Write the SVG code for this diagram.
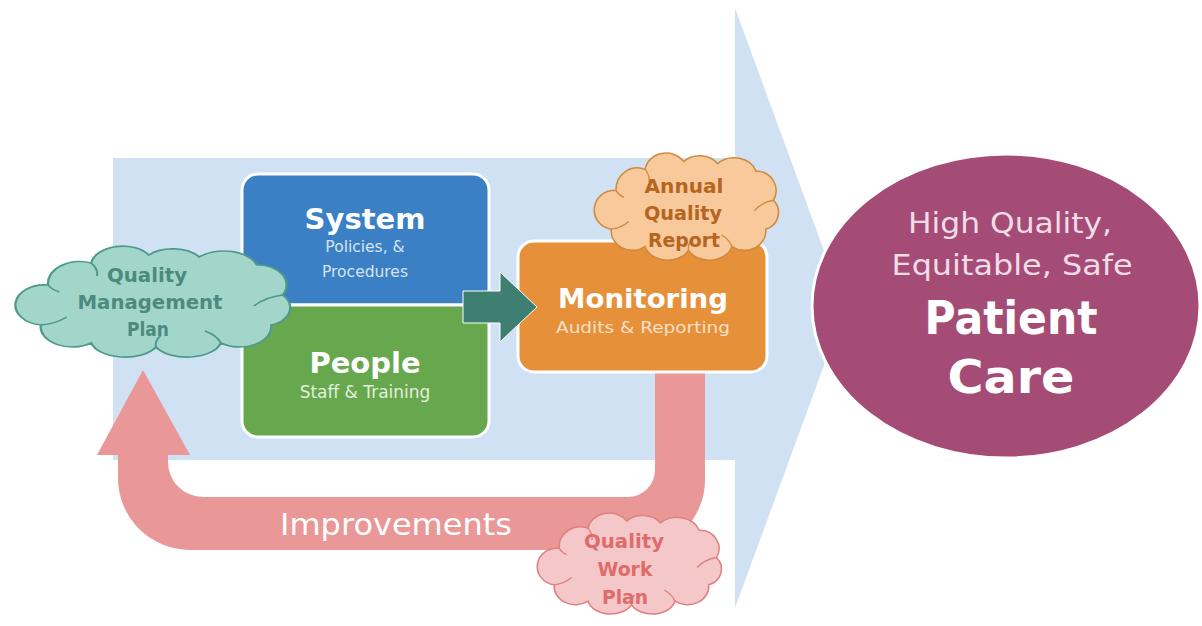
<svg xmlns="http://www.w3.org/2000/svg" width="1202" height="626" viewBox="0 0 1202 626">
  <style>
    text { font-family: "DejaVu Sans", "Liberation Sans", sans-serif; text-anchor: middle; }
    .title { font-weight: bold; fill: #ffffff; }
    .cloudtxt { font-weight: bold; font-size: 20px; }
    .box { stroke: #ffffff; stroke-width: 3; }
    .cloud { stroke-width: 1.6; vector-effect: non-scaling-stroke; }
    .curl { fill: none; stroke-width: 1.4; vector-effect: non-scaling-stroke; }
  </style>
  <defs>
    <!-- generic cloud outline in a 200 x 110 box -->
    <path id="cloudShape" d="M 25,40 A 22,22 0 0 1 55,18 A 22,20 0 0 1 95,10 A 22,18 0 0 1 130,12 A 24,20 0 0 1 170,20 A 20,20 0 0 1 188,50 A 18,18 0 0 1 180,80 A 22,20 0 0 1 145,98 A 24,18 0 0 1 100,102 A 24,18 0 0 1 55,98 A 22,20 0 0 1 20,80 A 18,18 0 0 1 25,40 Z"/>
    <path id="cloudCurls" d="M 20,80 Q 30,79 38,72 M 188,50 Q 176,52 168,61 M 55,18 Q 60,24 59,31 M 145,98 Q 142,90 134,86 M 100,102 Q 99,96 103,91 M 25,40 Q 28,45 33,47"/>
  </defs>

  <!-- background flow arrow -->
  <g id="flow-arrow">
    <polygon points="113,158 735,158 735,8 845,308 735,608 735,460 113,460" fill="#CFE1F2"/>
  </g>

  <!-- connectors -->
  <g id="connectors">
    <!-- improvements feedback loop -->
    <path d="M 705,365 L 705,480 A 70,70 0 0 1 635,550 L 190,550 A 72,72 0 0 1 118,478 L 118,455 L 97,455 L 143,370 L 190,455 L 168,455 L 168,462 A 35,35 0 0 0 203,497 L 628,497 A 27,27 0 0 0 655,470 L 655,365 Z" fill="#E99797"/>
  </g>

  <g id="system">
    <rect class="box" x="242" y="174" width="247" height="131" rx="16" fill="#3B80C4"/>
    <text class="title" x="365" y="229" font-size="29">System</text>
    <text x="365" y="252" font-size="15.5" fill="#D5E3F3">Policies, &amp;</text>
    <text x="365" y="277" font-size="15.5" fill="#D5E3F3">Procedures</text>
  </g>

  <g id="people">
    <rect class="box" x="242" y="305" width="247" height="132" rx="16" fill="#67A84F"/>
    <text class="title" x="365" y="373" font-size="29">People</text>
    <text x="365" y="398" font-size="17" fill="#E2EFDB">Staff &amp; Training</text>
  </g>

  <g id="monitoring">
    <rect class="box" x="518" y="241" width="249" height="131" rx="16" fill="#E6903A"/>
    <text class="title" x="643" y="308" font-size="27" textLength="170" lengthAdjust="spacingAndGlyphs">Monitoring</text>
    <text x="643" y="333" font-size="16" fill="#F8E0C8" textLength="174" lengthAdjust="spacingAndGlyphs">Audits &amp; Reporting</text>
  </g>

  <!-- step arrow between the inputs and monitoring -->
  <g id="step-arrow">
    <polygon points="463,291 500,291 500,272 537,307 500,342 500,323 463,323" fill="#3F7F72" stroke="#ffffff" stroke-width="1"/>
  </g>

  <g id="quality-management-plan">
    <g transform="translate(12,245) scale(1.44,1)">
      <use href="#cloudShape" class="cloud" fill="#A3D6CB" stroke="#4E9A8A"/>
      <use href="#cloudCurls" class="curl" stroke="#4E9A8A"/>
    </g>
    <text class="cloudtxt" x="147" y="282" fill="#4B8A7D" textLength="80" lengthAdjust="spacingAndGlyphs">Quality</text>
    <text class="cloudtxt" x="150" y="309" fill="#4B8A7D" textLength="145" lengthAdjust="spacingAndGlyphs">Management</text>
    <text class="cloudtxt" x="148" y="336" fill="#4B8A7D" textLength="42" lengthAdjust="spacingAndGlyphs">Plan</text>
  </g>

  <g id="annual-quality-report">
    <g transform="translate(592,152) scale(0.965,0.965)">
      <use href="#cloudShape" class="cloud" fill="#F7C99B" stroke="#D08A3E"/>
      <use href="#cloudCurls" class="curl" stroke="#D08A3E"/>
    </g>
    <text class="cloudtxt" x="684" y="193" fill="#B5651F" textLength="79" lengthAdjust="spacingAndGlyphs">Annual</text>
    <text class="cloudtxt" x="683" y="220" fill="#B5651F" textLength="78" lengthAdjust="spacingAndGlyphs">Quality</text>
    <text class="cloudtxt" x="684" y="247" fill="#B5651F" textLength="72" lengthAdjust="spacingAndGlyphs">Report</text>
  </g>

  <g id="improvements-label">
    <text x="396" y="535" font-size="30" fill="#ffffff" textLength="232" lengthAdjust="spacingAndGlyphs">Improvements</text>
  </g>

  <g id="quality-work-plan">
    <g transform="translate(535,512) scale(0.965,0.91)">
      <use href="#cloudShape" class="cloud" fill="#F4C8C8" stroke="#E07F7F"/>
      <use href="#cloudCurls" class="curl" stroke="#E07F7F"/>
    </g>
    <text class="cloudtxt" x="624" y="548" fill="#E06B6B" textLength="80" lengthAdjust="spacingAndGlyphs">Quality</text>
    <text class="cloudtxt" x="625" y="576" fill="#E06B6B" textLength="55" lengthAdjust="spacingAndGlyphs">Work</text>
    <text class="cloudtxt" x="625" y="604" fill="#E06B6B" textLength="46" lengthAdjust="spacingAndGlyphs">Plan</text>
  </g>

  <g id="patient-care">
    <ellipse cx="1006" cy="306" rx="194" ry="152" fill="#A54C76" stroke="#ffffff" stroke-width="3"/>
    <text x="1010" y="233" font-size="29" fill="#F1DCE6" textLength="204" lengthAdjust="spacingAndGlyphs">High Quality,</text>
    <text x="1012" y="275" font-size="29" fill="#F1DCE6" textLength="241" lengthAdjust="spacingAndGlyphs">Equitable, Safe</text>
    <text class="title" x="1011" y="334" font-size="46" textLength="173" lengthAdjust="spacingAndGlyphs">Patient</text>
    <text class="title" x="1011" y="393" font-size="46" textLength="127" lengthAdjust="spacingAndGlyphs">Care</text>
  </g>
</svg>
